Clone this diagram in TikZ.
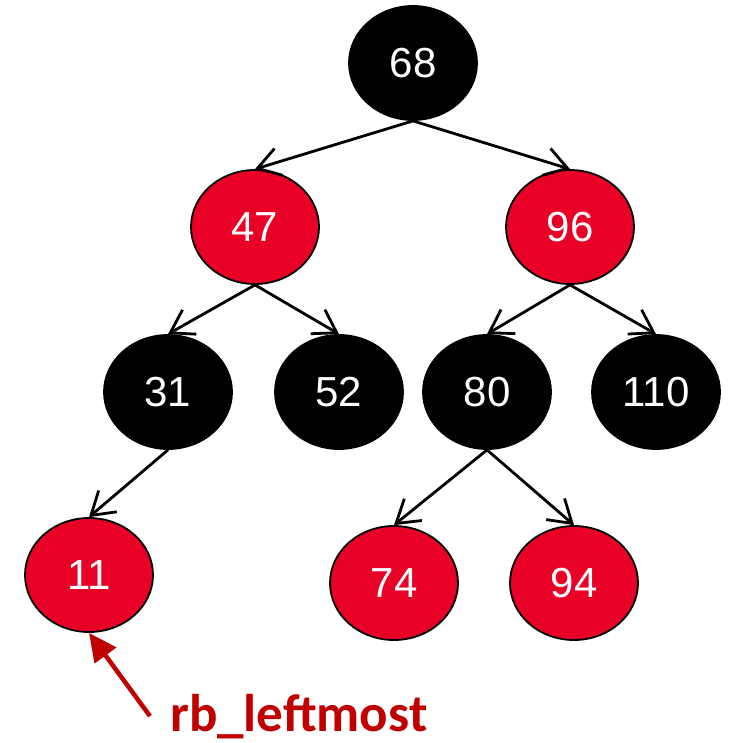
\documentclass[tikz,border=0pt]{standalone}
\usepackage{fontspec}
\setmainfont{Liberation Sans}
\newfontfamily\labelfont{Carlito}
\usetikzlibrary{positioning, arrows.meta, shapes.geometric}
\definecolor{nodered}{RGB}{232,0,38}
\definecolor{labelred}{RGB}{192,0,0}

\begin{document}
\begin{tikzpicture}[x=1pt, y=-1pt, >={Straight Barb[length=22pt,width=28pt]},
    every node/.style={font=\fontsize{42}{42}\selectfont},
    treenode/.style={ellipse, draw=black, line width=1.8pt, minimum width=128pt, minimum height=114pt, inner sep=0pt, text=white},
    blacknode/.style={treenode, fill=black},
    rednode/.style={treenode, fill=nodered},
    edge/.style={->, line width=2.8pt}]
    \useasboundingbox (0,0) rectangle (734,743);

    % Tree nodes
    \node[blacknode] (n68) at (413,63) {68};
    \node[rednode] (n47) at (255,227) {47};
    \node[rednode] (n96) at (570,227) {96};
    \node[blacknode] (n31) at (168,392) {31};
    \node[blacknode] (n52) at (339,392) {52};
    \node[blacknode] (n80) at (487,392) {80};
    \node[blacknode] (n110) at (656,392) {110};
    \node[rednode] (n11) at (89,575) {11};
    \node[rednode] (n74) at (394,583) {74};
    \node[rednode] (n94) at (574,583) {94};

    % Edges
    \draw[edge] (n68.south) -- (n47.north);
    \draw[edge] (n68.south) -- (n96.north);
    \draw[edge] (n47.south) -- (n31.north);
    \draw[edge] (n47.south) -- (n52.north);
    \draw[edge] (n96.south) -- (n80.north);
    \draw[edge] (n96.south) -- (n110.north);
    \draw[edge] (n31.south) -- (n11.north);
    \draw[edge] (n80.south) -- (n74.north);
    \draw[edge] (n80.south) -- (n94.north);

    % Leftmost pointer
    \node[font=\labelfont\bfseries\fontsize{53}{53}\selectfont, text=labelred, anchor=base west, inner sep=0pt] (lbl) at (170,731) {rb\_leftmost};
    \draw[-{Triangle[length=28pt,width=26pt]}, labelred, line width=4.5pt] ([xshift=-20pt]lbl.west) -- (n11.south);
\end{tikzpicture}
\end{document}
